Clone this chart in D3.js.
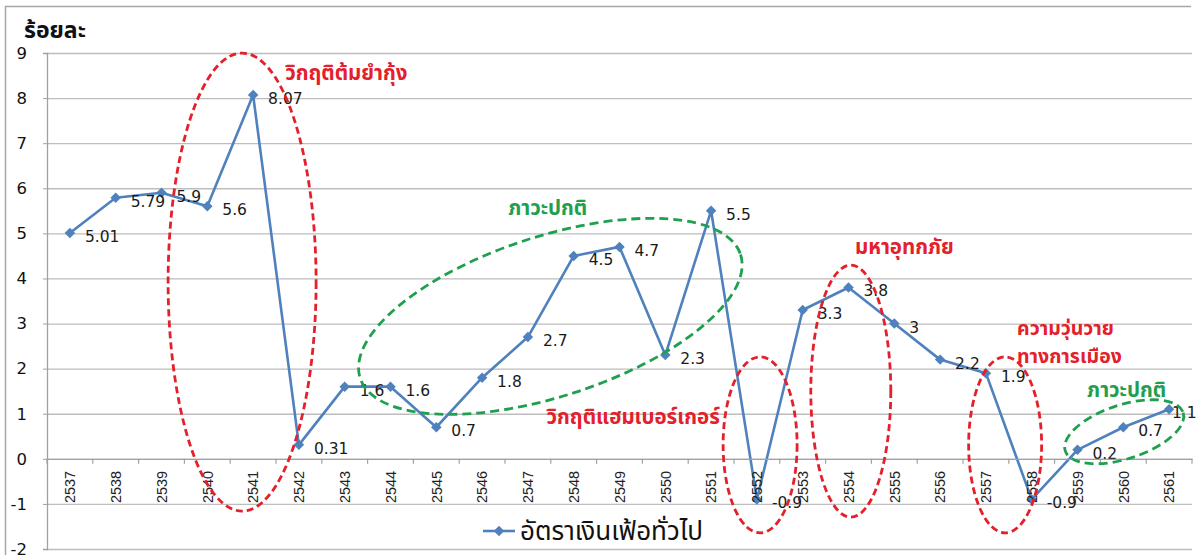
<!DOCTYPE html>
<html>
<head>
<meta charset="utf-8">
<script src="https://cdn.jsdelivr.net/npm/d3@7"></script>
<style>
  html, body { margin: 0; padding: 0; background: #fff; }
  svg { display: block; }
  .thai { font-family: "Noto Sans Thai", "Tahoma", "DejaVu Sans", "Noto Sans", sans-serif; }
</style>
</head>
<body>
<svg id="chart" width="1201" height="555"></svg>
<script>
// ---- data ----
const years = ["2537","2538","2539","2540","2541","2542","2543","2544","2545","2546","2547","2548","2549","2550","2551","2552","2553","2554","2555","2556","2557","2558","2559","2560","2561"];
const inflation = [5.01,5.79,5.9,5.6,8.07,0.31,1.6,1.6,0.7,1.8,2.7,4.5,4.7,2.3,5.5,-0.9,3.3,3.8,3,2.2,1.9,-0.9,0.2,0.7,1.1];
const valueLabels = ["5.01","5.79","5.9","5.6","8.07","0.31","1.6","1.6","0.7","1.8","2.7","4.5","4.7","2.3","5.5","-0.9","3.3","3.8","3","2.2","1.9","-0.9","0.2","0.7","1.1"];
const yTicks = [-2,-1,0,1,2,3,4,5,6,7,8,9];
const yTitle = "ร้อยละ";
const seriesName = "อัตราเงินเฟ้อทั่วไป";
const crisisLabels = ["วิกฤติต้มยำกุ้ง", "ภาวะปกติ", "วิกฤติแฮมเบอร์เกอร์", "มหาอุทกภัย", "ความวุ่นวาย", "ทางการเมือง", "ภาวะปกติ"];

(function () {
// ---- layout ----
const svg = d3.select("#chart");
const pLeft = 47, pRight = 1192, pTop = 53, pBottom = 549;
const x = d3.scaleBand().domain(years).range([pLeft, pRight]).padding(0);
const bw = x.bandwidth();
const cx = d => x(d) + bw / 2;
const y = d3.scaleLinear().domain([-2, 9]).range([pBottom, pTop]);
// fractional index -> px
const xi = i => x(years[0]) + bw / 2 + i * bw;

const BLUE = "#4f81bd", RED = "#e3202b", GREEN = "#1fa04e";

// outer frame
svg.append("path").attr("d", `M5.5,555 L5.5,6.5 L1191,6.5`).attr("fill","none").attr("stroke","#a6a6a6").attr("stroke-width",1.5);

// gridlines
const grid = svg.append("g").attr("transform", `translate(${pLeft},0)`)
  .call(d3.axisLeft(y).tickValues(yTicks).tickSize(-(pRight - pLeft)).tickFormat(""));
grid.select(".domain").remove();
grid.selectAll("line").attr("stroke", "#bdbdbd").attr("stroke-width", 1.3);

// y axis
const ya = svg.append("g").attr("transform", `translate(${pLeft},0)`)
  .call(d3.axisLeft(y).tickValues(yTicks).tickSize(4).tickPadding(16).tickFormat(d => String(d)));
ya.select(".domain").attr("stroke", "#a0a0a0").attr("stroke-width", 1.3);
ya.selectAll("line").attr("stroke", "#a0a0a0");
ya.selectAll("text").attr("font-family", "DejaVu Sans, Verdana, sans-serif").attr("font-size", 16.5).attr("fill", "#111");

// series line
const line = d3.line().x((d, i) => cx(years[i])).y(d => y(d));
svg.append("path").datum(inflation).attr("d", line)
  .attr("fill", "none").attr("stroke", BLUE).attr("stroke-width", 2.6).attr("stroke-linejoin", "round");
const diamond = d3.symbol().type(d3.symbolDiamond2).size(70);
svg.append("g").selectAll("path").data(inflation).join("path")
  .attr("d", diamond)
  .attr("transform", (d, i) => `translate(${cx(years[i])},${y(d)})`)
  .attr("fill", BLUE);

// value labels
svg.append("g").selectAll("text").data(inflation).join("text")
  .attr("x", (d, i) => Math.min(cx(years[i]) + 15, pRight - 20))
  .attr("y", d => y(d) + 9)
  .attr("font-family", "DejaVu Sans, Verdana, sans-serif").attr("font-size", 15.5).attr("fill", "#1a1a1a")
  .text((d, i) => valueLabels[i]);

// x axis at zero
const xa = svg.append("g").attr("transform", `translate(0,${y(0)})`)
  .call(d3.axisBottom(x).tickSize(0).tickPadding(0));
xa.select(".domain").attr("stroke", "#a0a0a0").attr("stroke-width", 1.3);
xa.selectAll("text")
  .attr("transform", "rotate(-90)")
  .attr("text-anchor", "end")
  .attr("x", -12).attr("y", 0).attr("dy", "0.36em")
  .attr("font-family", "Liberation Sans, Arial, sans-serif")
  .attr("font-size", 14.5).attr("fill", "#222");
// boundary tick marks
svg.append("g").selectAll("line").data(years.concat(["end"])).join("line")
  .attr("x1", (d, i) => i < years.length ? x(d) : x(years[years.length-1]) + bw)
  .attr("x2", (d, i) => i < years.length ? x(d) : x(years[years.length-1]) + bw)
  .attr("y1", y(0)).attr("y2", y(0) + 5)
  .attr("stroke", "#a0a0a0").attr("stroke-width", 1.2);

// title
svg.append("text").attr("class","thai").attr("x", 24).attr("y", 38)
  .attr("font-size", 23).attr("font-weight", "bold").attr("fill", "#111").text(yTitle);

// annotations
const ann = svg.append("g");
function ellipse(ci, cv, rx, ry, rot, color, dash) {
  ann.append("ellipse")
    .attr("cx", 0).attr("cy", 0).attr("rx", rx).attr("ry", ry)
    .attr("transform", `translate(${xi(ci)},${y(cv)}) rotate(${rot})`)
    .attr("fill", "none").attr("stroke", color).attr("stroke-width", 2.8)
    .attr("stroke-dasharray", dash);
}
function label(ci, cv, txt, color, anchor, size) {
  ann.append("text").attr("class","thai")
    .attr("x", xi(ci)).attr("y", y(cv)).attr("dy", "0.35em")
    .attr("text-anchor", anchor || "start")
    .attr("font-size", size || 20.5).attr("font-weight", "bold").attr("fill", color).text(txt);
}
ellipse(3.76, 3.92, 74, 229, 0, RED, "7,4");
ellipse(10.49, 3.16, 200, 80, -18, GREEN, "9,5");
ellipse(15.07, 0.31, 37, 88, 0, RED, "7,4");
ellipse(17.05, 1.50, 40, 126, 0, RED, "7,4");
ellipse(20.42, 0.31, 36.5, 88, 0, RED, "7,4");
ellipse(23.02, 0.60, 62, 27, -18, GREEN, "9,5");

label(4.70, 8.56, crisisLabels[0], RED);
label(9.57, 5.56, crisisLabels[1], GREEN);
label(14.19, 0.93, crisisLabels[2], RED, "end");
label(17.14, 4.70, crisisLabels[3], RED);
label(20.68, 2.90, crisisLabels[4], RED, "start", 19.5);
label(20.68, 2.28, crisisLabels[5], RED, "start", 19.5);
label(22.21, 1.53, crisisLabels[6], GREEN);

// legend
const lg = svg.append("g").attr("transform", "translate(483,531)");
lg.append("line").attr("x1", 0).attr("x2", 32).attr("y1", 0).attr("y2", 0).attr("stroke", BLUE).attr("stroke-width", 2.6);
lg.append("path").attr("d", diamond).attr("transform", "translate(16,0)").attr("fill", BLUE);
lg.append("text").attr("class","thai").attr("x", 37).attr("y", 0).attr("dy", "0.35em")
  .attr("font-size", 26).attr("fill", "#111").text(seriesName);
})();
</script>
</body>
</html>
